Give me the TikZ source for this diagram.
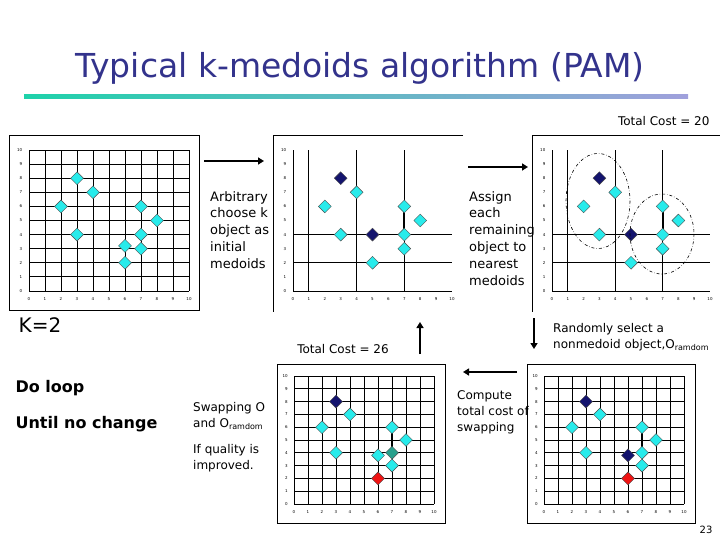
\documentclass[tikz,border=0pt]{standalone}
\usepackage{fontspec}
\setmainfont{DejaVu Sans}
\usetikzlibrary{shapes.geometric,arrows.meta}
\definecolor{ttl}{RGB}{51,51,140}
\definecolor{cy}{RGB}{40,235,235}
\definecolor{dk}{RGB}{20,20,110}
\definecolor{tl}{RGB}{40,160,140}
\definecolor{rd}{RGB}{240,20,20}
\tikzset{
 pt/.style={diamond,draw=black!70,line width=0.4pt,fill=cy,minimum size=13pt,inner sep=0pt},
 med/.style={pt,fill=dk},
 tpt/.style={pt,fill=tl},
 rpt/.style={pt,fill=rd},
 grid line/.style={line width=0.9pt,black},
 tick/.style={font=\fontsize{4}{4}\selectfont},
 frame/.style={draw=black,line width=0.8pt},
 arr/.style={line width=1.8pt,-{Triangle[length=6pt,width=7pt]}},
 txt/.style={font=\fontsize{13}{16.8}\selectfont,align=left,anchor=north west,inner sep=0pt},
}
\newcommand\ticklabels{%
 \foreach \k in {0,...,10}{\node[tick] at (\k,-0.6) {\k}; \node[tick,anchor=east] at (-0.2,\k) {\k};}}
\newcommand\fullgrid{%
 \foreach \k in {0,...,10}{\draw[grid line] (\k,0)--(\k,10); \draw[grid line] (0,\k)--(10,\k);}}
\begin{document}
\begin{tikzpicture}[x=1pt,y=-1pt]
\useasboundingbox (0,0) rectangle (720,540);
\node[text=ttl,font=\fontsize{33}{33}\selectfont] (title) at (360,68) {Typical k-medoids algorithm (PAM)};
\shade[left color={rgb,255:red,30;green,210;blue,170},right color={rgb,255:red,160;green,160;blue,220}] (24,95) rectangle (688,99);
\node[font=\fontsize{12}{12}\selectfont,anchor=east] (tc20) at (713,121) {Total Cost = 20};
% chart 1
\draw[frame] (9,135) rectangle (199,310);
\begin{scope}[shift={(29,291)},x=16pt,y=14.1pt]
\fullgrid \ticklabels
\foreach \p [count=\i] in {(3,8),(4,7),(2,6),(7,6),(8,5),(3,4),(7,4),(6,3.2),(7,3),(6,2)} \node[pt] (a\i) at \p {};
\end{scope}
% chart 2
\draw[frame] (463,135) -- (273,135) -- (273,312);
\begin{scope}[shift={(293,291)},x=15.9pt,y=14.1pt]
\ticklabels
\draw[grid line] (0,0)--(0,10) (0,0)--(10,0) (1,0)--(1,10) (4,0)--(4,10) (7,0)--(7,10) (0,2)--(10,2) (0,4)--(10,4);
\draw[line width=2pt] (7,4)--(7,6);
\foreach \p/\s [count=\i] in {(3,8)/med,(4,7)/pt,(2,6)/pt,(3,4)/pt,(7,6)/pt,(8,5)/pt,(5,4)/med,(7,4)/pt,(7,3)/pt,(5,2)/pt} \node[\s] (b\i) at \p {};
\end{scope}
% chart 3
\draw[frame] (720,135) -- (532,135) -- (532,312);
\begin{scope}[shift={(552,291)},x=15.8pt,y=14.1pt]
\ticklabels
\draw[grid line] (0,0)--(0,10) (0,0)--(10,0) (1,0)--(1,10) (4,0)--(4,10) (7,0)--(7,10) (0,2)--(10,2) (0,4)--(10,4);
\draw[line width=2pt] (7,4)--(7,6);
\foreach \p/\s [count=\i] in {(3,8)/med,(4,7)/pt,(2,6)/pt,(3,4)/pt,(7,6)/pt,(8,5)/pt,(5,4)/med,(7,4)/pt,(7,3)/pt,(5,2)/pt} \node[\s] (c\i) at \p {};
\end{scope}
\draw[dash dot,line width=0.6pt] (598,201) ellipse [x radius=32,y radius=47.5];
\draw[dash dot,line width=0.6pt] (662,234) ellipse [x radius=32,y radius=40];
% chart 4
\draw[frame] (277,364) rectangle (445,523);
\begin{scope}[shift={(294,504)},x=14pt,y=12.8pt]
\fullgrid \ticklabels
\draw[line width=2pt] (7,4)--(7,6);
\foreach \p/\s [count=\i] in {(3,8)/med,(4,7)/pt,(2,6)/pt,(3,4)/pt,(7,6)/pt,(8,5)/pt,(6,3.8)/pt,(7,4)/tpt,(7,3)/pt,(6,2)/rpt} \node[\s] (d\i) at \p {};
\end{scope}
% chart 5
\draw[frame] (527,364) rectangle (695,523);
\begin{scope}[shift={(544,504)},x=14pt,y=12.8pt]
\fullgrid \ticklabels
\draw[line width=2pt] (7,4)--(7,6);
\foreach \p/\s [count=\i] in {(3,8)/med,(4,7)/pt,(2,6)/pt,(3,4)/pt,(7,6)/pt,(8,5)/pt,(6,3.8)/med,(7,4)/pt,(7,3)/pt,(6,2)/rpt} \node[\s] (e\i) at \p {};
\end{scope}
% arrows
\coordinate (a1s) at (204,161); \coordinate (a1e) at (264,161);
\draw[arr] (a1s)--(a1e);
\coordinate (a2s) at (468,167); \coordinate (a2e) at (528,167);
\draw[arr] (a2s)--(a2e);
\coordinate (a3s) at (534,318); \coordinate (a3e) at (534,349);
\draw[arr] (a3s)--(a3e);
\coordinate (a4s) at (517,372); \coordinate (a4e) at (463,372);
\draw[arr] (a4s)--(a4e);
\coordinate (a5s) at (420,354); \coordinate (a5e) at (420,322);
\draw[arr] (a5s)--(a5e);
% texts
\node[txt] (t1) at (210,191) {Arbitrary\\choose k\\object as\\initial\\medoids};
\node[txt] (t2) at (469,191) {Assign\\each\\remaining\\object to\\nearest\\medoids};
\node[txt,font=\fontsize{12}{16}\selectfont] (t3) at (553,323) {Randomly select a\\nonmedoid object,O\textsubscript{\fontsize{8}{8}\selectfont ramdom}};
\node[font=\fontsize{12}{12}\selectfont] (tc26) at (343,349) {Total Cost = 26};
\node[font=\fontsize{20}{20}\selectfont] (k2) at (40,325) {K=2};
\node[font=\bfseries\fontsize{16}{16}\selectfont,anchor=west] (dl) at (12,388) {Do loop};
\node[font=\bfseries\fontsize{16}{16}\selectfont,anchor=west] (un) at (12,424) {Until no change};
\node[txt,font=\fontsize{12}{16}\selectfont] (t4) at (193,402) {Swapping O\\and O\textsubscript{\fontsize{8}{8}\selectfont ramdom}};
\node[txt,font=\fontsize{12}{16}\selectfont] (t5) at (193,444) {If quality is\\improved.};
\node[txt,font=\fontsize{12}{16}\selectfont] (t6) at (457,390) {Compute\\total cost of\\swapping};
\node[font=\fontsize{10}{10}\selectfont] (pg) at (706,530) {23};
\end{tikzpicture}
\end{document}
